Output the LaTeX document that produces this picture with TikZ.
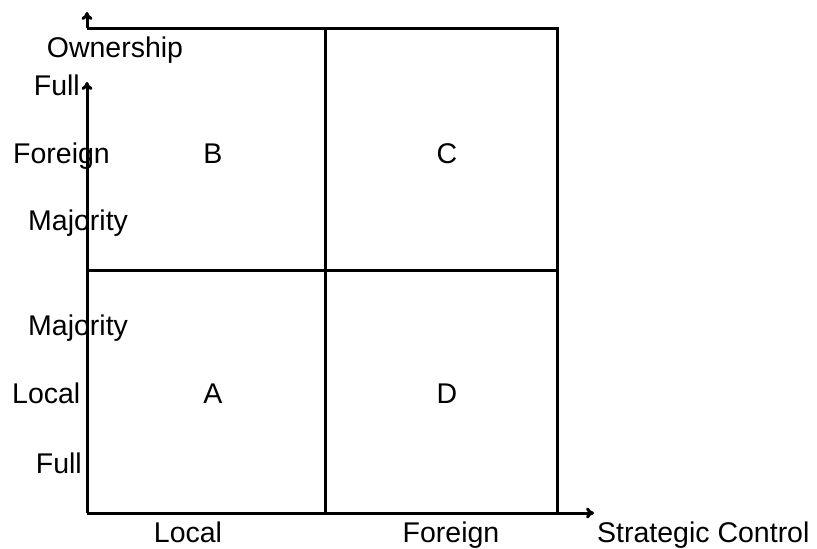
\documentclass[tikz,border=0pt]{standalone}
\usepackage{fontspec}
\setmainfont{Liberation Sans}
\usetikzlibrary{arrows.meta}

\begin{document}
\begin{tikzpicture}[x=1pt,y=-1pt,>={To[length=8pt,width=11pt]},
  grid/.style={line width=3pt},
  lab/.style={inner sep=0pt,font=\fontsize{28.5}{30}\selectfont}]
\useasboundingbox (0,0) rectangle (817,549);
% corners of the matrix
\coordinate (bl) at (87,513);
\coordinate (br) at (557,513);
\coordinate (tl) at (87,28);
\coordinate (tr) at (557,28);
\coordinate (bm) at (325,513);
\coordinate (tm) at (325,28);
\coordinate (ml) at (87,270);
\coordinate (mr) at (557,270);
\coordinate (yend) at (87,82);
\coordinate (xend) at (594,513);
% axes and grid
\draw[grid,->] (bl)--(xend);
\draw[grid,->] (bl)--(yend);
\draw[grid] (tl)--(tr)--(br);
\draw[grid] (tm)--(bm);
\draw[grid] (ml)--(mr);
\draw[grid,->] (tl)--++(0,-16);
% quadrant letters
\node[lab,anchor=base] (qb) at (213,163) {B};
\node[lab,anchor=base] (qc) at (447,163) {C};
\node[lab,anchor=base] (qa) at (213,403) {A};
\node[lab,anchor=base] (qd) at (447,403) {D};
% ownership labels
\node[lab,anchor=base] (own) at (115,57) {Ownership};
\node[lab,anchor=base east] (ffull) at (80,95) {Full};
\node[lab,anchor=base west] (fforeign) at (13,163) {Foreign};
\node[lab,anchor=base west] (fmaj) at (28,230) {Majority};
\node[lab,anchor=base west] (lmaj) at (28,335) {Majority};
\node[lab,anchor=base west] (llocal) at (12,403) {Local};
\node[lab,anchor=base east] (lfull) at (82,473) {Full};
% control labels
\node[lab,anchor=base] (clocal) at (188,542) {Local};
\node[lab,anchor=base] (cforeign) at (451,542) {Foreign};
\node[lab,anchor=base west] (sc) at (597,542) {Strategic Control};
\end{tikzpicture}
\end{document}
